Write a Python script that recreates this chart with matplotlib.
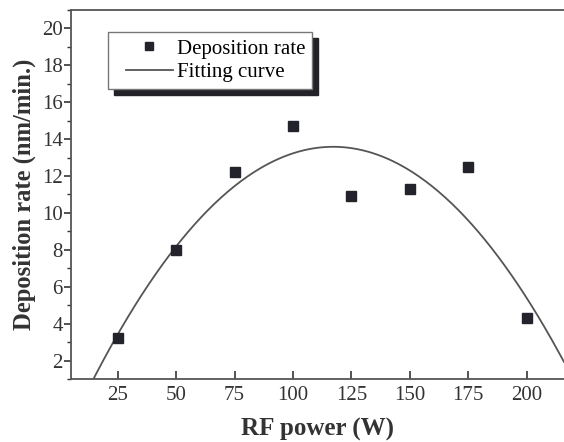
import numpy as np
import matplotlib
matplotlib.use("Agg")
import matplotlib.pyplot as plt
from matplotlib.ticker import MultipleLocator
from matplotlib.legend_handler import HandlerLine2D

power = [25, 50, 75, 100, 125, 150, 175, 200]
rate = [3.2, 8.0, 12.2, 14.7, 10.9, 11.3, 12.5, 4.3]

plt.rcParams['font.family'] = ['Liberation Serif', 'DejaVu Serif']

fig = plt.figure(figsize=(5.64, 4.42), dpi=100)
ax = fig.add_axes([71 / 564, 1 - 379 / 442, 1 - 71 / 564, 369 / 442])

# quadratic fit of the measured points
coef = np.polyfit(power, rate, 2)
xf = np.linspace(5, 216, 300)
ax.plot(xf, np.polyval(coef, xf), color='#555555', lw=1.3, label='Fitting curve')
ax.plot(power, rate, 's', color='#23232b', ms=7.5, ls='none', label='Deposition rate')

ax.set_xlim(5, 216)
ax.set_ylim(1, 21)
ax.set_xticks(power)
ax.set_yticks(range(2, 21, 2))
ax.yaxis.set_minor_locator(MultipleLocator(1))
ax.tick_params(axis='x', direction='in', length=5.5, width=1.2, labelsize=15, pad=5, colors='#333333')
ax.tick_params(axis='y', which='major', direction='out', length=5, width=1.2, labelsize=15, pad=1,
               colors='#333333')
ax.tick_params(axis='y', which='minor', direction='out', length=3, width=1.0, colors='#333333')
for s in ['left', 'bottom', 'top']:
    ax.spines[s].set_linewidth(1.3)
    ax.spines[s].set_color('#555555')
ax.spines['right'].set_visible(False)

ax.set_xlabel('RF power (W)', fontsize=18, fontweight='bold', color='#333333', labelpad=9.5)
ax.set_ylabel('Deposition rate (nm/min.)', fontsize=17.7, fontweight='bold', color='#333333', labelpad=4)

handles, labels = ax.get_legend_handles_labels()
leg = ax.legend(handles[::-1], labels[::-1], loc='upper left', bbox_to_anchor=(0.075, 0.94),
                borderaxespad=0, fontsize=15, fancybox=False,
                shadow={'ox': 4.5, 'oy': -4.5, 'facecolor': '#222228', 'edgecolor': '#222228', 'alpha': 1},
                framealpha=1, edgecolor='#777777', markerscale=0.7,
                handler_map={h: HandlerLine2D(xpad=0.52) for h in handles},
                handlelength=2.77, borderpad=0.33, labelspacing=0.2, handletextpad=0.19)
leg.get_frame().set_linewidth(1.0)

fig.savefig('out.png', dpi=100)
